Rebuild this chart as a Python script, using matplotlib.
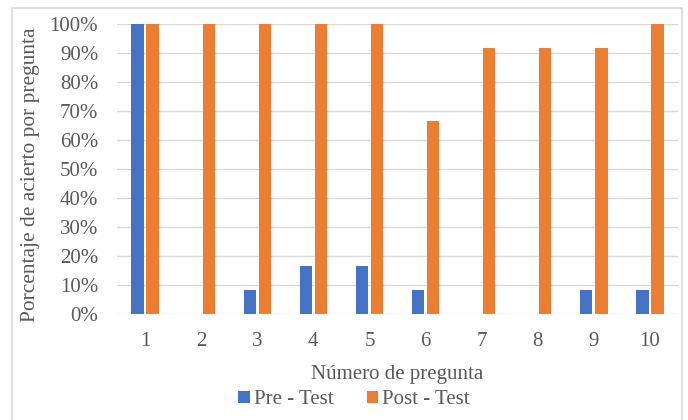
import matplotlib.pyplot as plt
import numpy as np
from matplotlib.patches import Rectangle

# Data
preguntas = ['1', '2', '3', '4', '5', '6', '7', '8', '9', '10']
pre_test = [100, 0, 8.33, 16.67, 16.67, 8.33, 0, 0, 8.33, 8.33]
post_test = [100, 100, 100, 100, 100, 66.67, 91.67, 91.67, 91.67, 100]

color_pre = '#4472C4'
color_post = '#ED7D31'
text_color = '#595959'
grid_color = '#D9D9D9'

plt.rcParams['font.family'] = ['Liberation Serif', 'DejaVu Serif']

fig = plt.figure(figsize=(6.88, 4.2), dpi=100)
# chart border (Excel-style)
fig.patches.append(Rectangle((12 / 688, -0.05), 670 / 688, 1.05 - 8 / 420,
                             transform=fig.transFigure, fill=False,
                             edgecolor='#D9D9D9', linewidth=1.2))

ax = fig.add_axes([117 / 688, 1 - 314 / 420, (678 - 117) / 688, (314 - 24) / 420])

x = np.arange(len(preguntas))
w = 0.22
ax.bar(x - 0.135, pre_test, w, color=color_pre, label='Pre - Test', zorder=3)
ax.bar(x + 0.135, post_test, w, color=color_post, label='Post - Test', zorder=3)

ax.set_xlim(-0.5, len(preguntas) - 0.5)
ax.set_ylim(0, 100)
ax.set_yticks(np.arange(0, 101, 10))
ax.set_yticklabels([f'{v}%' for v in range(0, 101, 10)])
ax.set_xticks(x)
ax.set_xticklabels(preguntas)

ax.grid(axis='y', color=grid_color, linewidth=1, zorder=0)
for s in ax.spines.values():
    s.set_visible(False)
ax.tick_params(length=0, colors=text_color, labelsize=15)
ax.tick_params(axis='x', pad=13)
ax.tick_params(axis='y', pad=13.5)

ax.set_xlabel('Número de pregunta', color=text_color, fontsize=15, labelpad=10)
ax.set_ylabel('Porcentaje de acierto por pregunta', color=text_color, fontsize=15.4)
ax.yaxis.set_label_coords(-0.137, 0.48)

leg = fig.legend(loc='center', bbox_to_anchor=(354 / 688, 1 - 400 / 420), ncol=2,
                 frameon=False, fontsize=15, handlelength=0.55, handleheight=0.55,
                 handletextpad=0.2, columnspacing=1.6)
for t in leg.get_texts():
    t.set_color(text_color)

fig.savefig('out.png', dpi=100, facecolor='white')
